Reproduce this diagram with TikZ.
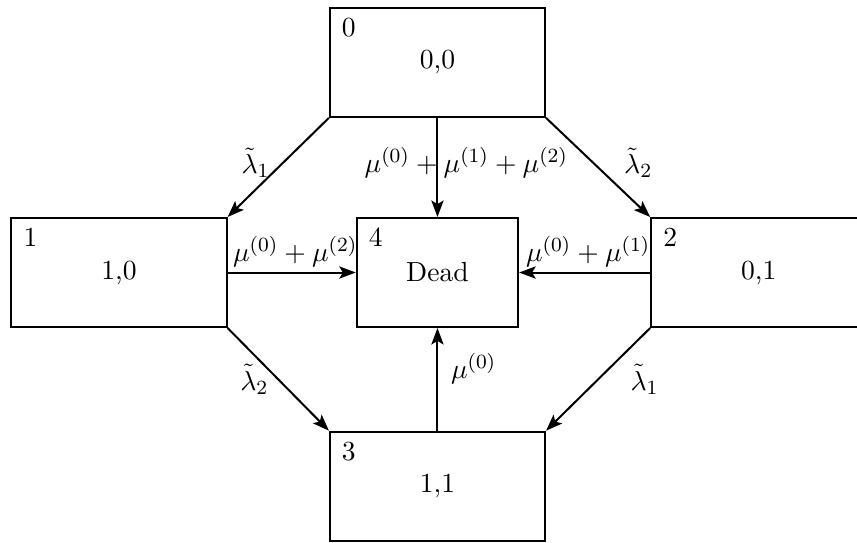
\documentclass[tikz,border=0pt]{standalone}
\usetikzlibrary{arrows.meta}
\begin{document}
\begin{tikzpicture}[
  every node/.style={inner sep=2pt, font=\fontsize{10.95}{13.6}\selectfont},
  stateS/.style={rectangle, draw, thick, minimum width=3cm, minimum height=1.52cm},
  deadS/.style={rectangle, draw, thick, minimum width=2.25cm, minimum height=1.52cm},
  numS/.style={anchor=north west, inner sep=0pt, xshift=5pt, yshift=-4.2pt},
  trans/.style={-{Stealth[length=2.3mm, width=1.7mm, inset=0.5mm]}, thick}
]
\clip (0,0) rectangle (11.95,7.56);

% STATES
\node[stateS] (s0) at (6.10,6.69) {0,0};
\node[stateS] (s1) at (1.66,3.76) {1,0};
\node[stateS] (s2) at (10.58,3.76) {0,1};
\node[stateS] (s3) at (6.10,0.78) {1,1};
\node[deadS]  (s4) at (6.10,3.76) {Dead};

% STATE NUMBERS
\node[numS] (n0) at (s0.north west) {0};
\node[numS] (n1) at (s1.north west) {1};
\node[numS] (n2) at (s2.north west) {2};
\node[numS] (n3) at (s3.north west) {3};
\node[numS] (n4) at (s4.north west) {4};

% TRANSITIONS
\draw[trans] (s0.south west) -- node[pos=0.45, left=3pt] {$\tilde{\lambda}_1$} (s1.north east);
\draw[trans] (s0.south east) -- node[pos=0.45, right=10pt] {$\tilde{\lambda}_2$} (s2.north west);
\draw[trans] (s0.south) -- node[midway, anchor=west, xshift=-31.3pt, yshift=2pt] {$\mu^{(0)}+\mu^{(1)}+\mu^{(2)}$} (s4.north);
\draw[trans] (s1.east) -- node[midway, above, xshift=1.4pt] {$\mu^{(0)}+\mu^{(2)}$} (s4.west);
\draw[trans] (s2.west) -- node[midway, above, xshift=1.4pt] {$\mu^{(0)}+\mu^{(1)}$} (s4.east);
\draw[trans] (s1.south east) -- node[midway, left=1.5pt] {$\tilde{\lambda}_2$} (s3.north west);
\draw[trans] (s2.south west) -- node[midway, right=10.5pt] {$\tilde{\lambda}_1$} (s3.north east);
\draw[trans] (s3.north) -- node[pos=0.6, right=3pt] {$\mu^{(0)}$} (s4.south);
\end{tikzpicture}
\end{document}
